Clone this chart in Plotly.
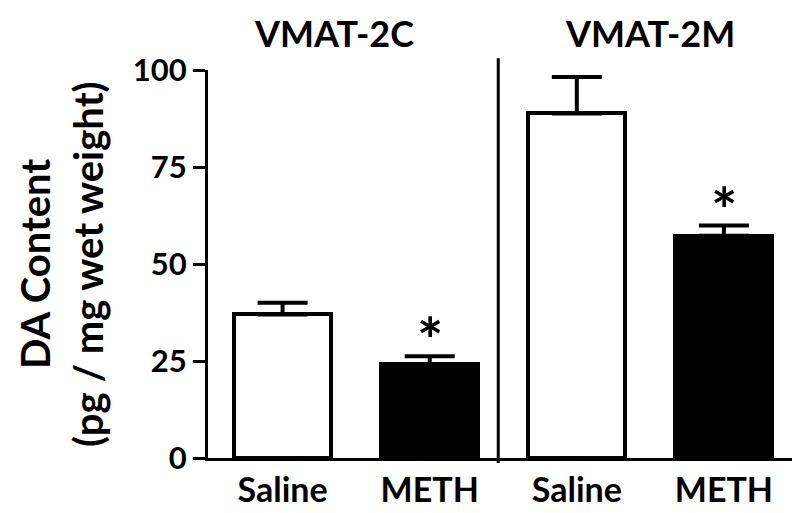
import plotly.graph_objects as go

# values (DA content, pg / mg wet weight)
groups = ["VMAT-2C", "VMAT-2M"]
treatments = ["Saline", "METH", "Saline", "METH"]
means = [37.0, 24.2, 88.8, 57.3]
sem = [3.0, 2.0, 9.4, 2.6]
fills = ["white", "black", "white", "black"]
signif = [False, True, False, True]

x_pos = list(range(len(treatments)))
font = "Lato, 'Open Sans', Arial, sans-serif"

fig = go.Figure()
fig.add_trace(go.Bar(
    x=x_pos, y=means, width=0.66,
    marker=dict(color=fills, line=dict(color="black", width=4)),
    error_y=dict(type="data", array=sem, arrayminus=[0] * 4, symmetric=False,
                 color="black", thickness=4, width=25),
    hoverinfo="skip", showlegend=False,
))

# significance stars above the METH bars
for i, s in enumerate(signif):
    if s:
        fig.add_annotation(x=x_pos[i], y=means[i] + sem[i], text="<b>*</b>",
                           showarrow=False, yanchor="bottom", yshift=-22,
                           font=dict(size=62, family=font, color="black"))

# group titles
for g, (a, b) in zip(groups, [(0, 1), (2, 3)]):
    fig.add_annotation(x=(a + b) / 2 - (0.15 if g == groups[0] else 0), y=1.0,
                       xref="x", yref="paper", yanchor="bottom", yshift=13,
                       text="<b>%s</b>" % g, showarrow=False,
                       font=dict(size=36, family=font, color="black"))

# divider between the two groups
fig.add_shape(type="line", xref="x", yref="paper", x0=1.466, x1=1.466,
              y0=-0.013, y1=1.03, line=dict(color="black", width=3))

# y axis title, two lines
y_title = ["DA Content", "(pg / mg wet weight)"]
for txt, xp in zip(y_title, [27, 80]):
    fig.add_annotation(xref="paper", yref="paper", x=(xp - 200) / 588,
                       xanchor="center", y=0.5, yanchor="middle",
                       text="<b>%s</b>" % txt, textangle=-90, showarrow=False,
                       font=dict(size=40, family=font, color="black"))

fig.update_layout(
    width=800, height=513,
    margin=dict(l=200, r=12, t=62, b=58),
    plot_bgcolor="white", paper_bgcolor="white",
    font=dict(family=font, color="black"),
    bargap=0,
)
fig.update_xaxes(range=[-0.507, 3.49], tickvals=x_pos,
                 ticktext=["<b>%s</b>" % t for t in treatments],
                 tickfont=dict(size=34), showline=True, linecolor="black",
                 linewidth=3, ticks="", showgrid=False, zeroline=False)
fig.update_yaxes(range=[0, 100], tickvals=[0, 25, 50, 75, 100],
                 ticktext=["<b>%d</b>" % v for v in [0, 25, 50, 75, 100]],
                 tickfont=dict(size=31), showline=True, linecolor="black",
                 linewidth=3, ticks="outside", ticklen=12, tickwidth=3,
                 tickcolor="black", showgrid=False, zeroline=False)

fig.write_html("out.html")
